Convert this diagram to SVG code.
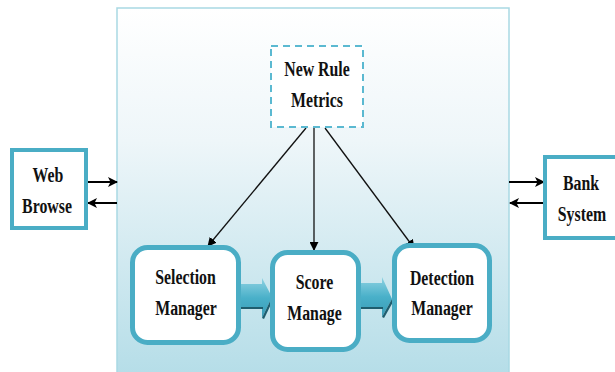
<svg xmlns="http://www.w3.org/2000/svg" width="615" height="372" viewBox="0 0 615 372">
  <defs>
    <linearGradient id="panelFill" x1="0" y1="0" x2="0" y2="1">
      <stop offset="0" stop-color="#ffffff"/>
      <stop offset="0.35" stop-color="#eef6f9"/>
      <stop offset="1" stop-color="#b2dce7"/>
    </linearGradient>
    <linearGradient id="blockArrowFill" x1="0" y1="0" x2="0" y2="1">
      <stop offset="0" stop-color="#8fd2e2"/>
      <stop offset="0.5" stop-color="#49b0c9"/>
      <stop offset="1" stop-color="#3a9bb6"/>
    </linearGradient>
    <marker id="head" viewBox="0 0 10 10" refX="9" refY="5" markerWidth="9" markerHeight="9" markerUnits="userSpaceOnUse" orient="auto">
      <path d="M0,0 L10,5 L0,10 Z" fill="#000"/>
    </marker>
    <marker id="headBig" viewBox="0 0 10 10" refX="9" refY="5" markerWidth="10" markerHeight="10" markerUnits="userSpaceOnUse" orient="auto">
      <path d="M0,0 L10,5 L0,10 L2.5,5 Z" fill="#000"/>
    </marker>
  </defs>
  <style>
    /* labels use a narrowed bold serif: each text is scaled horizontally to 0.72 */
    .lbl { font-family: "Liberation Serif", "Times New Roman", serif; font-weight: bold; font-size: 22px; fill: #111; text-anchor: middle; }
    .ext { fill: #ffffff; stroke: #4aadc5; stroke-width: 4; }
    .mod { fill: #ffffff; stroke: #4aadc5; stroke-width: 5; }
    .link { stroke: #111; stroke-width: 1.3; fill: none; }
    .side { stroke: #000; stroke-width: 2; fill: none; }
  </style>

  <rect width="615" height="372" fill="#ffffff"/>

  <!-- system panel -->
  <rect id="panel" x="117" y="8" width="392" height="380" fill="url(#panelFill)" stroke="#a9d9e3" stroke-width="1.5"/>

  <!-- connectors -->
  <g id="connectors">
    <line class="side" x1="88" y1="182" x2="117" y2="182" marker-end="url(#headBig)"/>
    <line class="side" x1="117" y1="203" x2="88" y2="203" marker-end="url(#headBig)"/>
    <line class="side" x1="509" y1="182" x2="544" y2="182" marker-end="url(#headBig)"/>
    <line class="side" x1="544" y1="203" x2="510" y2="203" marker-end="url(#headBig)"/>

    <line class="link" x1="306" y1="128" x2="208" y2="246" marker-end="url(#head)"/>
    <line class="link" x1="314" y1="128" x2="314" y2="250" marker-end="url(#head)"/>
    <line class="link" x1="325" y1="128" x2="414" y2="248" marker-end="url(#head)"/>

    <!-- block arrows between the managers -->
    <g id="flow1">
      <path d="M239,284 L262,284 L262,278 L272,297 L262,318 L262,309 L239,309 Z" fill="url(#blockArrowFill)"/>
      <path d="M239,307 L263,307 L263,309 L239,309 Z" fill="#1f5d6e"/>
      <path d="M262,318 L272,297 L273,300 L264,319 Z" fill="#1f5d6e"/>
    </g>
    <g id="flow2">
      <path d="M359,283 L382,283 L382,277 L392,299 L382,317 L382,309 L359,309 Z" fill="url(#blockArrowFill)"/>
      <path d="M359,307 L383,307 L383,309 L359,309 Z" fill="#1f5d6e"/>
      <path d="M382,317 L392,299 L393,302 L384,318 Z" fill="#1f5d6e"/>
    </g>
  </g>

  <!-- nodes -->
  <g id="web-browse">
    <rect class="ext" x="12" y="150" width="74" height="78"/>
    <text class="lbl" transform="translate(48,182) scale(0.72,1)">Web</text>
    <text class="lbl" transform="translate(47,213) scale(0.72,1)">Browse</text>
  </g>

  <g id="bank-system">
    <rect class="ext" x="545" y="157" width="80" height="81"/>
    <text class="lbl" transform="translate(581,190) scale(0.72,1)">Bank</text>
    <text class="lbl" transform="translate(582,221) scale(0.72,1)">System</text>
  </g>

  <g id="new-rule-metrics">
    <rect x="271" y="46" width="92" height="81" fill="#ffffff" stroke="#5bb9d1" stroke-width="2" stroke-dasharray="7,5"/>
    <text class="lbl" transform="translate(317,76) scale(0.72,1)">New Rule</text>
    <text class="lbl" transform="translate(317,107) scale(0.72,1)">Metrics</text>
  </g>

  <g id="selection-manager">
    <rect class="mod" x="132.5" y="247.5" width="106" height="95" rx="15"/>
    <text class="lbl" transform="translate(185.5,284) scale(0.72,1)">Selection</text>
    <text class="lbl" transform="translate(186,315) scale(0.72,1)">Manager</text>
  </g>

  <g id="score-manage">
    <rect class="mod" x="272.5" y="252.5" width="86" height="97" rx="15"/>
    <text class="lbl" transform="translate(314.5,289) scale(0.72,1)">Score</text>
    <text class="lbl" transform="translate(314.5,320) scale(0.72,1)">Manage</text>
  </g>

  <g id="detection-manager">
    <rect class="mod" x="394.5" y="245.5" width="95" height="95" rx="15"/>
    <text class="lbl" transform="translate(442,285) scale(0.72,1)">Detection</text>
    <text class="lbl" transform="translate(442,315) scale(0.72,1)">Manager</text>
  </g>
</svg>
